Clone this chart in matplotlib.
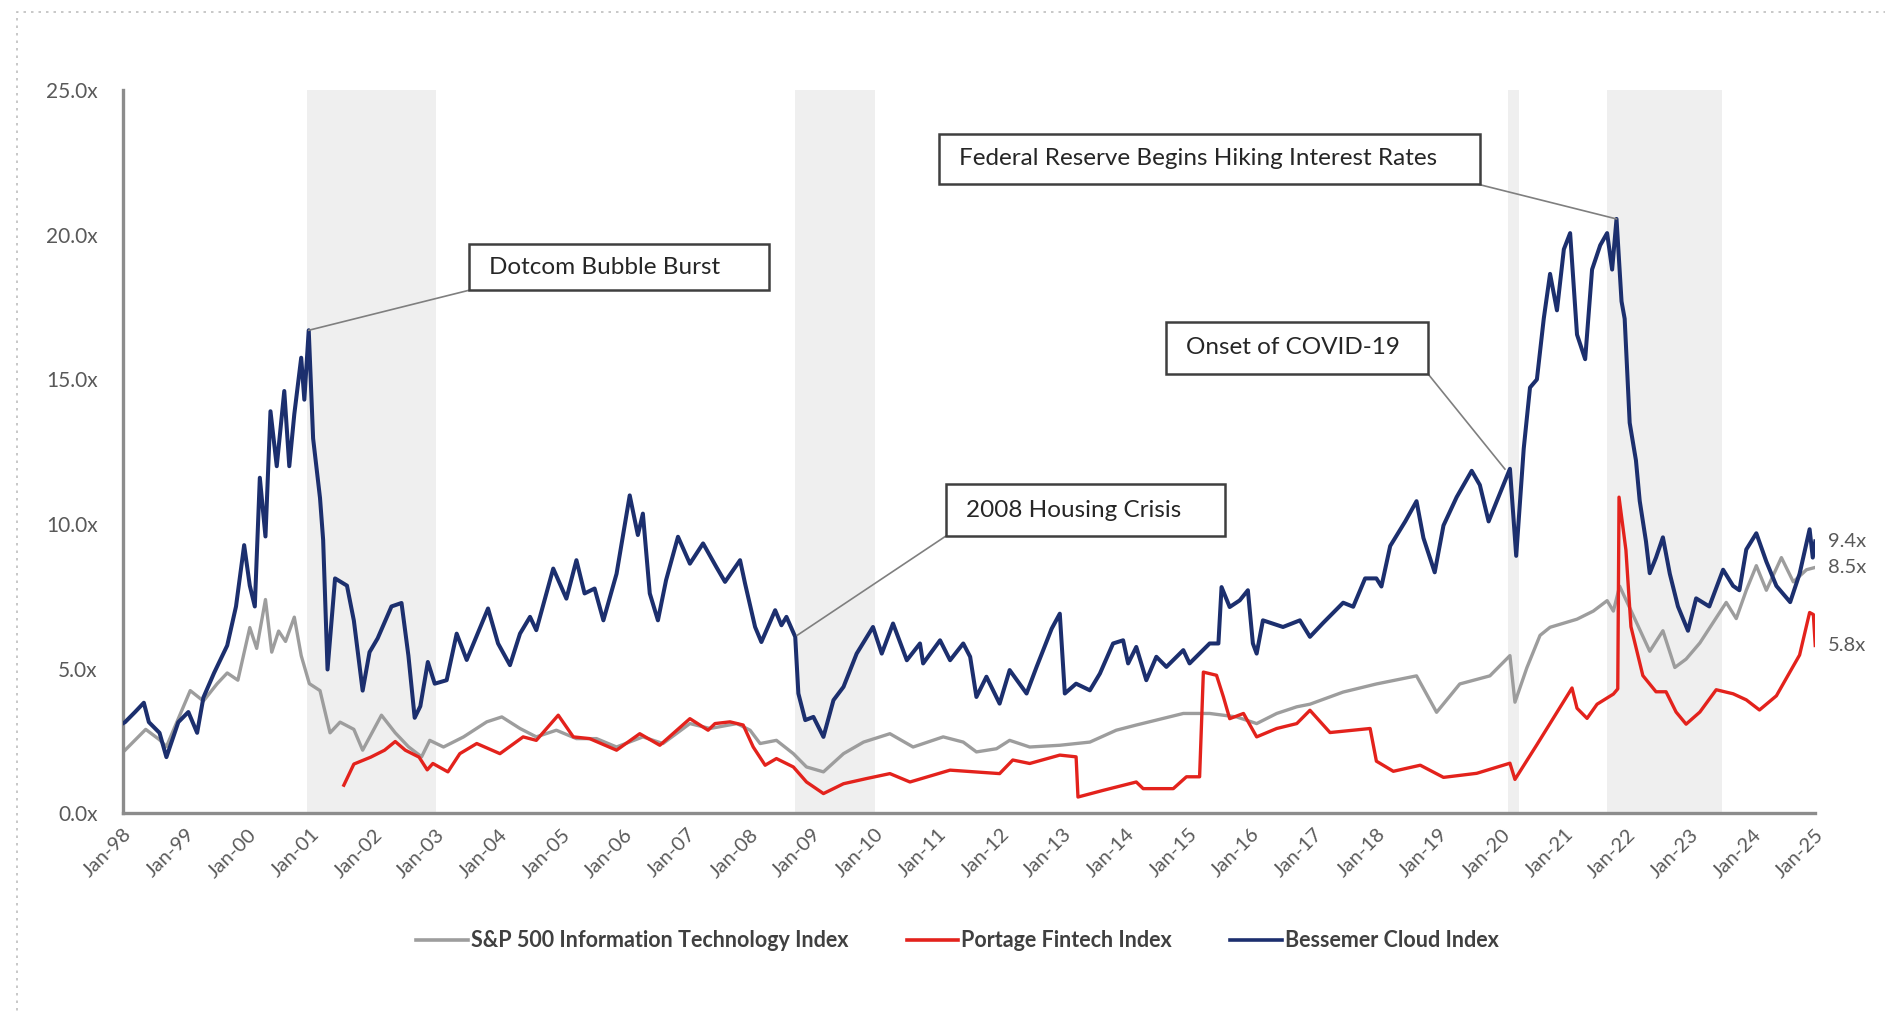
import matplotlib
matplotlib.use("Agg")
import matplotlib.pyplot as plt
from matplotlib.patches import Rectangle
from matplotlib.lines import Line2D

plt.rcParams['font.family'] = ['Lato', 'DejaVu Sans']

# ---------------- data (decimal year, EV/Revenue multiple) ----------------
bess_t = [1998.00, 1998.04, 1998.20, 1998.34, 1998.42, 1998.59, 1998.70, 1998.89, 1999.05, 1999.19,
          1999.29, 1999.46, 1999.67, 1999.81, 1999.94, 2000.03, 2000.11, 2000.19, 2000.28, 2000.36,
          2000.46, 2000.58, 2000.66, 2000.74, 2000.85, 2000.90, 2000.97, 2001.04, 2001.15, 2001.20,
          2001.27, 2001.39, 2001.58, 2001.69, 2001.83, 2001.94, 2002.07, 2002.29, 2002.45, 2002.56,
          2002.66, 2002.75, 2002.87, 2002.98, 2003.17, 2003.33, 2003.49, 2003.83, 2003.99, 2004.18,
          2004.34, 2004.50, 2004.60, 2004.87, 2005.08, 2005.24, 2005.37, 2005.53, 2005.67, 2005.88,
          2006.09, 2006.22, 2006.30, 2006.41, 2006.54, 2006.67, 2006.86, 2007.05, 2007.26, 2007.47,
          2007.61, 2007.85, 2007.93, 2008.09, 2008.19, 2008.41, 2008.51, 2008.59, 2008.73, 2008.78,
          2008.89, 2009.02, 2009.18, 2009.34, 2009.50, 2009.71, 2009.97, 2010.11, 2010.29, 2010.51,
          2010.72, 2010.77, 2011.04, 2011.20, 2011.41, 2011.52, 2011.62, 2011.78, 2011.99, 2012.15,
          2012.42, 2012.58, 2012.82, 2012.95, 2013.03, 2013.21, 2013.43, 2013.59, 2013.80, 2013.96,
          2014.04, 2014.17, 2014.33, 2014.49, 2014.65, 2014.92, 2015.02, 2015.34, 2015.48, 2015.53,
          2015.66, 2015.82, 2015.95, 2016.03, 2016.09, 2016.19, 2016.51, 2016.78, 2016.94, 2017.15,
          2017.47, 2017.63, 2017.82, 2018.00, 2018.08, 2018.22, 2018.46, 2018.64, 2018.75, 2018.93,
          2019.07, 2019.28, 2019.52, 2019.65, 2019.79, 2019.92, 2020.13, 2020.23, 2020.35, 2020.45,
          2020.56, 2020.67, 2020.77, 2020.88, 2020.99, 2021.09, 2021.20, 2021.33, 2021.44, 2021.57,
          2021.68, 2021.76, 2021.83, 2021.91, 2021.96, 2022.04, 2022.14, 2022.20, 2022.30, 2022.36,
          2022.46, 2022.57, 2022.68, 2022.81, 2022.97, 2023.10, 2023.31, 2023.53, 2023.69, 2023.79,
          2023.90, 2024.06, 2024.22, 2024.38, 2024.60, 2024.75, 2024.91, 2024.96, 2025.00]
bess_v = [3.10, 3.15, 3.50, 3.82, 3.15, 2.78, 1.94, 3.15, 3.50, 2.78,
          4.00, 4.85, 5.80, 7.15, 9.27, 7.87, 7.15, 11.60, 9.57, 13.90,
          12.00, 14.60, 12.00, 13.80, 15.75, 14.30, 16.70, 12.96, 10.90, 9.45,
          4.97, 8.12, 7.87, 6.66, 4.24, 5.57, 6.05, 7.15, 7.27, 5.45,
          3.30, 3.70, 5.23, 4.48, 4.60, 6.21, 5.30, 7.08, 5.87, 5.12,
          6.21, 6.79, 6.33, 8.46, 7.42, 8.75, 7.60, 7.77, 6.67, 8.28,
          10.99, 9.62, 10.36, 7.60, 6.67, 8.06, 9.56, 8.63, 9.33, 8.52,
          8.00, 8.75, 7.94, 6.44, 5.92, 7.02, 6.50, 6.79, 6.10, 4.14,
          3.22, 3.33, 2.64, 3.91, 4.37, 5.52, 6.44, 5.52, 6.56, 5.29,
          5.87, 5.18, 5.98, 5.29, 5.87, 5.41, 4.02, 4.72, 3.79, 4.95,
          4.14, 5.06, 6.38, 6.90, 4.14, 4.48, 4.25, 4.83, 5.87, 5.98,
          5.18, 5.75, 4.60, 5.41, 5.06, 5.64, 5.18, 5.87, 5.87, 7.82,
          7.13, 7.36, 7.71, 5.87, 5.52, 6.67, 6.44, 6.67, 6.10, 6.58,
          7.28, 7.14, 8.12, 8.12, 7.84, 9.24, 10.09, 10.79, 9.52, 8.33,
          9.95, 10.93, 11.84, 11.35, 10.09, 10.79, 11.91, 8.90, 12.61, 14.72,
          15.00, 17.11, 18.65, 17.39, 19.50, 20.06, 16.55, 15.70, 18.80, 19.64,
          20.06, 18.80, 20.55, 17.70, 17.10, 13.50, 12.20, 10.80, 9.40, 8.30,
          8.84, 9.54, 8.28, 7.15, 6.31, 7.43, 7.15, 8.42, 7.86, 7.71,
          9.12, 9.68, 8.70, 7.86, 7.30, 8.28, 9.82, 8.84, 9.40]

spx_t = [1998.00, 1998.04, 1998.37, 1998.59, 1998.70, 1999.08, 1999.29, 1999.51, 1999.67, 1999.84,
         2000.03, 2000.14, 2000.28, 2000.38, 2000.49, 2000.60, 2000.74, 2000.85, 2000.98, 2001.15,
         2001.31, 2001.47, 2001.69, 2001.83, 2002.13, 2002.35, 2002.56, 2002.77, 2002.90, 2003.12,
         2003.44, 2003.81, 2004.05, 2004.34, 2004.60, 2004.92, 2005.24, 2005.56, 2005.88, 2006.30,
         2006.62, 2007.05, 2007.37, 2007.80, 2008.01, 2008.17, 2008.43, 2008.70, 2008.91, 2009.18,
         2009.50, 2009.82, 2010.24, 2010.61, 2011.09, 2011.41, 2011.62, 2011.94, 2012.15, 2012.47,
         2012.95, 2013.43, 2013.85, 2014.17, 2014.49, 2014.92, 2015.34, 2015.77, 2016.09, 2016.41,
         2016.73, 2016.94, 2017.47, 2018.00, 2018.64, 2018.96, 2019.33, 2019.81, 2020.13, 2020.21,
         2020.40, 2020.61, 2020.77, 2021.20, 2021.46, 2021.68, 2021.78, 2021.88, 2022.09, 2022.36,
         2022.57, 2022.76, 2022.94, 2023.16, 2023.37, 2023.58, 2023.74, 2023.90, 2024.06, 2024.22,
         2024.46, 2024.65, 2024.86, 2025.00]
spx_v = [2.10, 2.18, 2.90, 2.54, 2.30, 4.24, 3.88, 4.48, 4.85, 4.60,
         6.42, 5.70, 7.39, 5.57, 6.30, 5.94, 6.78, 5.45, 4.48, 4.24,
         2.78, 3.15, 2.90, 2.18, 3.39, 2.78, 2.30, 1.95, 2.52, 2.29,
         2.64, 3.16, 3.33, 2.93, 2.64, 2.87, 2.58, 2.58, 2.29, 2.64,
         2.41, 3.10, 2.93, 3.10, 2.87, 2.41, 2.52, 2.06, 1.60, 1.43,
         2.06, 2.46, 2.75, 2.29, 2.64, 2.46, 2.12, 2.23, 2.52, 2.29,
         2.35, 2.46, 2.87, 3.05, 3.22, 3.45, 3.45, 3.33, 3.10, 3.45,
         3.68, 3.77, 4.19, 4.47, 4.75, 3.49, 4.47, 4.75, 5.45, 3.84,
         5.03, 6.15, 6.43, 6.71, 6.99, 7.35, 6.99, 7.85, 6.87, 5.60,
         6.31, 5.04, 5.33, 5.89, 6.59, 7.29, 6.73, 7.71, 8.56, 7.71,
         8.84, 8.00, 8.42, 8.50]

pft_t = [2001.53, 2001.69, 2001.96, 2002.18, 2002.35, 2002.51, 2002.73, 2002.86, 2002.95, 2003.19,
         2003.38, 2003.65, 2004.02, 2004.39, 2004.60, 2004.95, 2005.19, 2005.45, 2005.88, 2006.25,
         2006.57, 2007.05, 2007.34, 2007.45, 2007.69, 2007.90, 2008.06, 2008.25, 2008.43, 2008.70,
         2008.91, 2009.18, 2009.50, 2009.87, 2010.24, 2010.56, 2011.20, 2011.99, 2012.20, 2012.47,
         2012.95, 2013.21, 2013.24, 2013.64, 2014.17, 2014.28, 2014.76, 2014.97, 2015.18, 2015.24,
         2015.45, 2015.56, 2015.66, 2015.88, 2016.09, 2016.41, 2016.73, 2016.94, 2017.26, 2017.90,
         2018.00, 2018.27, 2018.70, 2019.07, 2019.60, 2020.13, 2020.21, 2020.56, 2020.88, 2021.12,
         2021.20, 2021.36, 2021.52, 2021.78, 2021.85, 2021.87, 2021.98, 2022.06, 2022.25, 2022.46,
         2022.62, 2022.78, 2022.94, 2023.16, 2023.42, 2023.69, 2023.90, 2024.11, 2024.38, 2024.60,
         2024.75, 2024.91, 2024.97, 2025.00]
pft_v = [0.97, 1.70, 1.94, 2.18, 2.48, 2.18, 1.94, 1.50, 1.72, 1.43,
         2.06, 2.41, 2.06, 2.64, 2.52, 3.39, 2.64, 2.58, 2.18, 2.75,
         2.35, 3.27, 2.87, 3.10, 3.16, 3.05, 2.29, 1.66, 1.89, 1.60,
         1.08, 0.68, 1.02, 1.20, 1.37, 1.08, 1.49, 1.37, 1.84, 1.72,
         2.01, 1.95, 0.56, 0.79, 1.08, 0.85, 0.85, 1.26, 1.26, 4.88,
         4.77, 4.02, 3.27, 3.45, 2.64, 2.93, 3.10, 3.56, 2.79, 2.93,
         1.80, 1.45, 1.66, 1.24, 1.38, 1.73, 1.17, 2.37, 3.49, 4.33,
         3.63, 3.28, 3.77, 4.12, 4.30, 10.93, 9.10, 6.45, 4.76, 4.20,
         4.20, 3.50, 3.08, 3.50, 4.27, 4.13, 3.92, 3.57, 4.06, 4.90,
         5.47, 6.94, 6.87, 5.80]

series_names = ["S&P 500 Information Technology Index", "Portage Fintech Index", "Bessemer Cloud Index"]
end_labels = ["9.4x", "8.5x", "5.8x"]
end_values = [9.4, 8.5, 5.8]

shaded_periods = [(2000.95, 2003.0), (2008.72, 2010.0), (2020.10, 2020.27), (2021.68, 2023.52)]

annotations = [
    # text, box (x0, x1, y0, y1) in data units, arrow from, arrow to
    ("Dotcom Bubble Burst", (2003.52, 2008.31, 18.08, 19.67), (2003.52, 18.08), (2000.97, 16.7)),
    ("Federal Reserve Begins Hiking Interest Rates", (2011.02, 2019.65, 21.75, 23.5), (2019.62, 21.75), (2021.83, 20.55)),
    ("Onset of COVID-19", (2014.64, 2018.82, 15.2, 17.0), (2018.82, 15.2), (2020.05, 11.9)),
    ("2008 Housing Crisis", (2011.13, 2015.58, 9.58, 11.38), (2011.13, 9.58), (2008.76, 6.15)),
]

years = list(range(1998, 2026))
year_labels = ["Jan-%02d" % (y % 100) for y in years]
y_ticks = [0, 5, 10, 15, 20, 25]

# ---------------- figure ----------------
fig = plt.figure(figsize=(18.85, 10.14), dpi=100)
ax = fig.add_axes([0.065, 0.198, 0.898, 0.713])

for a, b in shaded_periods:
    ax.axvspan(a, b, color="#efefef", zorder=0, lw=0)

c_gray, c_red, c_blue = "#9d9d9d", "#e3221c", "#1c2f6e"
ax.plot(spx_t, spx_v, color=c_gray, lw=2.4, zorder=2)
ax.plot(pft_t, pft_v, color=c_red, lw=2.4, zorder=3)
ax.plot(bess_t, bess_v, color=c_blue, lw=2.9, zorder=4)

ax.set_xlim(1998, 2025)
ax.set_ylim(0, 25)
ax.set_yticks(y_ticks)
ax.set_yticklabels(["%.1fx" % v for v in y_ticks], fontsize=15, color="#595959")
ax.set_xticks(years)
ax.set_xticklabels(year_labels, rotation=45, ha="right", rotation_mode="anchor",
                   fontsize=14.5, color="#595959")
ax.tick_params(axis="y", length=0, pad=18)
ax.tick_params(axis="x", length=0, pad=9)
for s in ["top", "right"]:
    ax.spines[s].set_visible(False)
for s in ["left", "bottom"]:
    ax.spines[s].set_color("#8c8c8c")
    ax.spines[s].set_linewidth(2.4)

# end labels
for txt, val in zip(end_labels, end_values):
    ax.text(2025.2, val, txt, fontsize=14.5, color="#595959", va="center", ha="left", clip_on=False)

# annotation boxes
for txt, (x0, x1, y0, y1), p0, p1 in annotations:
    ax.add_patch(Rectangle((x0, y0), x1 - x0, y1 - y0, facecolor="white", edgecolor="#3f3f3f",
                           lw=1.8, zorder=6, clip_on=False))
    ax.text(x0 + 0.32, (y0 + y1) / 2, txt, fontsize=17.5, color="#262626", va="center", ha="left",
            zorder=7)
    ax.plot([p0[0], p1[0]], [p0[1], p1[1]], color="#7f7f7f", lw=1.2, zorder=5)

# legend
handles = [Line2D([0], [0], color=c, lw=2.6) for c in (c_gray, c_red, c_blue)]
fig.legend(handles, series_names, loc="center", bbox_to_anchor=(0.508, 0.072), ncol=3,
           frameon=False, handlelength=2.4, handletextpad=0.15, columnspacing=2.7,
           prop={"size": 15.5, "weight": "bold"}, labelcolor="#404040")

# dotted outer frame
fig.add_artist(Rectangle((0.009, -0.05), 1.2, 1.038, transform=fig.transFigure, fill=False,
                         edgecolor="#bfbfbf", lw=1.2, linestyle=(0, (1.5, 3))))

fig.savefig("out.png", dpi=100)
